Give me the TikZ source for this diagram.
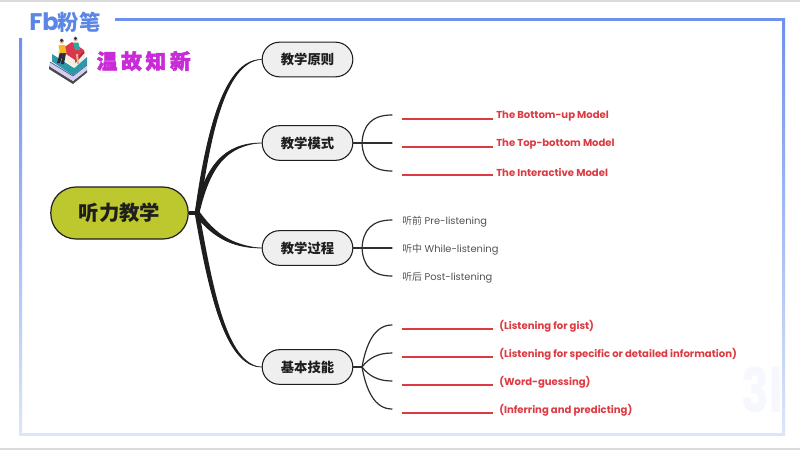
\documentclass[tikz,border=0pt]{standalone}
\usetikzlibrary{calc}
\usepackage{fontspec}
\setmainfont{Poppins}
\newfontfamily\cjk{Noto Sans CJK SC}
\newfontfamily\cjkfat[BoldFeatures={FakeBold=2.5}]{Noto Sans CJK SC}
\definecolor{framepale}{HTML}{DCE6FA}
\definecolor{logob}{HTML}{5B86E6}
\definecolor{frameb}{HTML}{6F90EC}
\definecolor{hub}{HTML}{BDC72E}
\definecolor{subn}{HTML}{EFEFEF}
\definecolor{ink}{HTML}{1E1E1E}
\definecolor{linec}{HTML}{2E2E2E}
\definecolor{redt}{HTML}{DD3A42}
\definecolor{magt}{HTML}{C92BD8}
\definecolor{wmark}{HTML}{F6F8FD}
\definecolor{bklav}{HTML}{D4CFF2}
\definecolor{bkdark}{HTML}{4A4F86}
\definecolor{bkteal}{HTML}{2C9AA6}
\definecolor{bkpage}{HTML}{F3EEDD}
\definecolor{bkred}{HTML}{DC3550}
\definecolor{pdark}{HTML}{2B2B3A}
\definecolor{pyel}{HTML}{F5B81F}
\definecolor{pskin}{HTML}{EFB08C}
\definecolor{phair}{HTML}{3A2A20}
\definecolor{pteal}{HTML}{2FA9A0}
\definecolor{phairb}{HTML}{2A3A50}
\newcommand{\taper}[4]{% start, two controls, target node, side of the thick edge
  \fill[ink] ($(jc)+(-2,-2*#4)$) .. controls #1 and #2 .. (#3) .. controls ($#2+(1.5,3*#4)$) and ($#1+(5,1.5*#4)$) .. ($(jc)+(2,2*#4)$) -- cycle;
  \draw[ink,line width=0.5pt] (jc) .. controls #1 and #2 .. (#3);}
\begin{document}
\begin{tikzpicture}[x=0.75pt,y=-0.75pt,
  hubnode/.style={draw=ink,line width=0.9pt,fill=hub,rounded corners=19pt,minimum width=103pt,minimum height=39pt,inner sep=0pt,font=\fontsize{15.3}{18}\cjk\bfseries,text=ink},
  subnode/.style={draw=ink,line width=0.8pt,fill=subn,rounded corners=13pt,minimum width=68pt,minimum height=26pt,inner sep=0pt,font=\fontsize{10}{12}\cjk\bfseries,text=ink},
  branch/.style={draw=linec,line width=0.9pt,line cap=round},
  blank/.style={draw=redt,line width=0.8pt},
  redlabel/.style={anchor=west,inner sep=0pt,yshift=-1pt,text=redt,font=\fontsize{7.55}{9}\selectfont\bfseries},
  greylabel/.style={anchor=west,inner sep=0pt,yshift=-1pt,text=black!68,font=\fontsize{7.4}{9}\selectfont}]
\useasboundingbox (0,0) rectangle (800,450);
\fill[white] (0,0) rectangle (800,450);
\fill[black!14] (0,0) rectangle (800,2);
\fill[black!14] (0,448) rectangle (800,450);
% watermark
\node[inner sep=0pt,text=wmark,font=\fontsize{46}{50}\selectfont\bfseries,xscale=0.75] (wm) at (762,390) {3l};
% frame
\shade[top color=frameb,bottom color=framepale] (19.2,38) rectangle (22.2,434);
\shade[top color=frameb,bottom color=framepale] (782,18.5) rectangle (785,435.5);
\fill[framepale] (19.2,432.5) rectangle (785,435.5);
\fill[frameb] (115,18) rectangle (785,21);
% logo
\node[anchor=west,inner sep=0pt,text=logob,font=\fontsize{18}{19}\selectfont\bfseries] (lg) at (29,22) {Fb};
\node[anchor=west,inner sep=0pt,text=logob,font=\fontsize{16}{17}\cjk\bfseries] (lg2) at (57.5,22.5) {粉笔};
% books icon
\begin{scope}[line join=round]
\fill[black!70] (49,66) -- (73,81) -- (87,70) -- (87,72.5) -- (73,84) -- (49,69) -- cycle;
\fill[bklav] (50,62) -- (73,76) -- (87,65) -- (87,70) -- (73,81) -- (49,66) -- cycle;
\draw[bkdark,line width=0.5pt] (50,62) -- (73,76) -- (87,65);
\fill[bkteal] (52,54) -- (74,68) -- (87,57) -- (87,65) -- (73,75.5) -- (52,61.5) -- cycle;
\fill[bkpage] (58,50) -- (75,61) -- (85,52) -- (85,57.5) -- (75,67.5) -- (58,56) -- cycle;
\fill[bkred] (60,50) -- (72,42) -- (84,50) -- (75,60) -- cycle;
\fill[bkred!80!black] (75,60) -- (84,50) -- (84.5,53) -- (75.5,63) -- cycle;
% persons
\fill[pdark] (60,52) -- (64,52) -- (60,63) -- (57,63) -- cycle;
\fill[pdark] (63,52) -- (66,53) -- (64,64) -- (61,64) -- cycle;
\fill[pyel] (58.5,45) -- (65,45) -- (66.5,53) -- (60,53) -- cycle;
\fill[pskin] (61.7,41.5) circle (2.2);
\fill[phair] (61.7,40.3) circle (1.8);
\fill[pteal] (73,42.5) -- (78.5,42.5) -- (80,50) -- (75,50) -- cycle;
\fill[pskin] (76,54) -- (78,54) -- (79,64) -- (77,64) -- cycle;
\fill[pskin] (75.5,39.5) circle (2.1);
\fill[phairb] (75.5,38.4) circle (1.7);
\end{scope}
% title
\node[anchor=west,inner sep=0pt,text=magt,font=\fontsize{15.5}{17}\cjkfat\bfseries] (title) at (96.5,61) {温\hspace{2.8pt}故\hspace{2.8pt}知\hspace{2.8pt}新};
% nodes
\node[hubnode] (hubn) at (119.5,213) {听力教学};
\node[subnode] (s1) at (307.5,59.5) {教学原则};
\node[subnode] (s2) at (307.5,143) {教学模式};
\node[subnode] (s3) at (307.5,248) {教学过程};
\node[subnode] (s4) at (307.5,367) {基本技能};
% main connectors
\coordinate (jc) at (197,213);
\draw[ink,line width=3pt] (hubn.east) -- (jc);
\taper{(205,140)}{(222,59.5)}{s1.west}{1}
\taper{(205,165)}{(225,143)}{s2.west}{1}
\taper{(210,235)}{(230,248)}{s3.west}{-1}
\taper{(208,290)}{(225,367)}{s4.west}{-1}
% model branch
\coordinate (j2) at (362,143);
\coordinate (e21) at (392,115);
\coordinate (e22) at (392,143);
\coordinate (e23) at (392,171);
\draw[branch] (s2.east) -- (e22);
\draw[branch] (j2) .. controls (363,125) and (372,115) .. (e21);
\draw[branch] (j2) .. controls (363,161) and (372,171) .. (e23);
% process branch
\coordinate (j3) at (362,248);
\coordinate (e31) at (392,220);
\coordinate (e32) at (392,248);
\coordinate (e33) at (392,276);
\draw[branch] (s3.east) -- (e32);
\draw[branch] (j3) .. controls (363,230) and (372,220) .. (e31);
\draw[branch] (j3) .. controls (363,266) and (372,276) .. (e33);
% skills branch
\coordinate (j4) at (362,367);
\coordinate (e41) at (392,325);
\coordinate (e42) at (392,353);
\coordinate (e43) at (392,381);
\coordinate (e44) at (392,409);
\draw[branch] (s4.east) -- (j4);
\draw[branch] (j4) .. controls (366,345) and (374,325) .. (e41);
\draw[branch] (j4) .. controls (369,358) and (378,353) .. (e42);
\draw[branch] (j4) .. controls (369,376) and (378,381) .. (e43);
\draw[branch] (j4) .. controls (366,389) and (374,409) .. (e44);
% blanks
\foreach \yy in {119,147,175,329,357,385,413}{\draw[blank] (402,\yy) -- (493,\yy);}
% labels
\node[redlabel] (m1) at (496,115) {The Bottom-up Model};
\node[redlabel] (m2) at (496,143) {The Top-bottom Model};
\node[redlabel] (m3) at (496,171) {The Interactive Model};
\node[greylabel] (p1) at (402,220) {{\cjk 听前} Pre-listening};
\node[greylabel] (p2) at (402,248) {{\cjk 听中} While-listening};
\node[greylabel] (p3) at (402,276) {{\cjk 听后} Post-listening};
\node[redlabel] (b1) at (499,325) {(Listening for gist)};
\node[redlabel] (b2) at (499,353) {(Listening for specific or detailed information)};
\node[redlabel] (b3) at (499,381) {(Word-guessing)};
\node[redlabel] (b4) at (499,409) {(Inferring and predicting)};
\end{tikzpicture}
\end{document}
